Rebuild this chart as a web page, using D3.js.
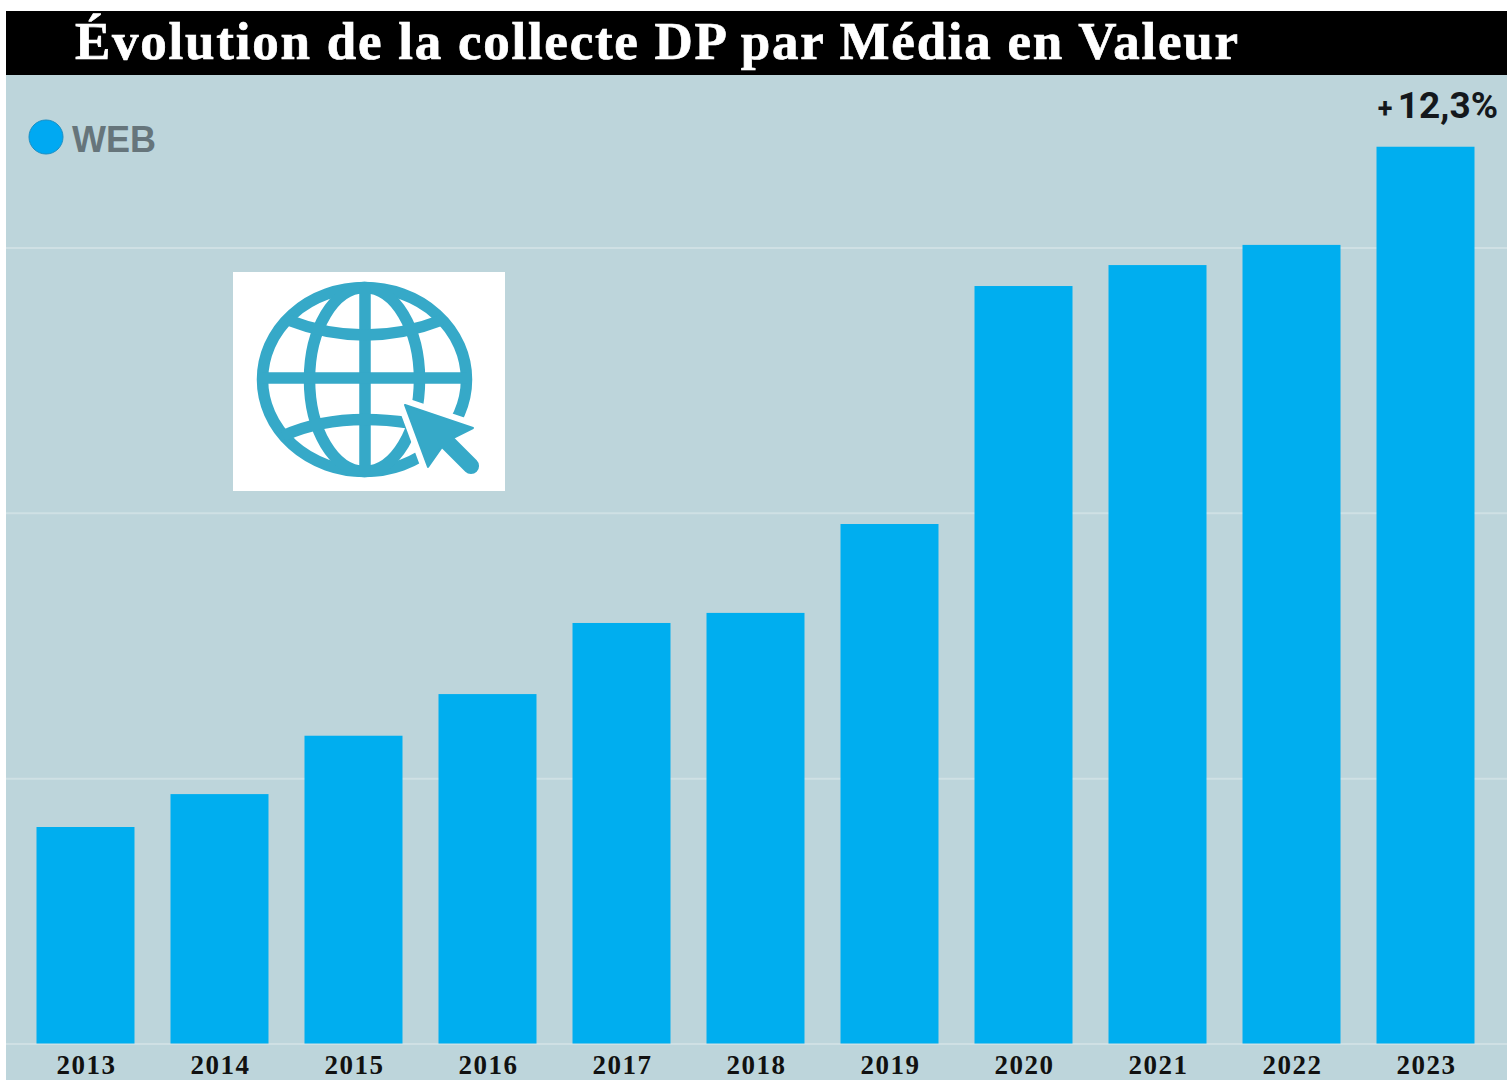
<!DOCTYPE html>
<html lang="fr">
<head>
<meta charset="utf-8">
<title>Évolution de la collecte DP par Média en Valeur</title>
<script src="https://cdn.jsdelivr.net/npm/d3@7"></script>
<style>
  html, body { margin: 0; padding: 0; background: #fff; overflow: hidden; }
  svg { display: block; }
</style>
</head>
<body>
<div id="graphArea"></div>
<script>
const years = ["2013","2014","2015","2016","2017","2018","2019","2020","2021","2022","2023"];
// one grid interval = 100
const webValues = [81.6, 94, 116, 131.7, 158.5, 162.3, 195.8, 285.5, 293.4, 301, 338];
const gridTicks = [0, 100, 200, 300];
const seriesName = "WEB";
const growthSign = "+";
const growthLabel = "12,3%";
const titleText = "Évolution de la collecte DP par Média en Valeur";

const width = 1507;
const height = 1080;
const svg = d3.select("#graphArea").append("svg")
  .attr("width", width)
  .attr("height", height);

// background and title band
svg.append("rect").attr("x", 6).attr("y", 75).attr("width", width - 6).attr("height", height - 75).attr("fill", "#bdd5db");
svg.append("rect").attr("x", 6).attr("y", 11).attr("width", width - 6).attr("height", 64).attr("fill", "#000");
svg.append("text")
  .attr("x", 75).attr("y", 58.5)
  .attr("font-family", "Liberation Serif")
  .attr("font-weight", "bold")
  .attr("font-size", 53)
  .attr("letter-spacing", 1.75)
  .attr("fill", "#fff")
  .attr("stroke", "#fff")
  .attr("stroke-width", 0.7)
  .text(titleText);

var x = d3.scaleBand()
  .domain(years)
  .range([36.5, 1474.5])
  .paddingInner(0.2687)
  .paddingOuter(0);

var y = d3.scaleLinear()
  .domain([0, 350])
  .range([1043.5, 114.9]);

// gridlines
svg.append("g")
  .attr("transform", "translate(6,0)")
  .call(d3.axisLeft(y).tickValues(gridTicks).tickSize(-(width - 6)).tickFormat(""))
  .call(g => g.select(".domain").remove())
  .selectAll("line")
    .attr("stroke", "#cfe0e4")
    .attr("stroke-width", 2);

// bars
svg.selectAll(".bar")
  .data(webValues)
  .enter().append("rect")
    .attr("class", "bar")
    .attr("x", (d, i) => x(years[i]))
    .attr("y", d => y(d))
    .attr("width", x.bandwidth())
    .attr("height", d => y(0) - y(d))
    .attr("fill", "#00aeef");

// year labels
svg.append("g")
  .attr("transform", "translate(1,1043)")
  .call(d3.axisBottom(x).tickSize(0).tickPadding(11.5))
  .call(g => g.select(".domain").remove())
  .selectAll("text")
    .attr("font-family", "Liberation Serif")
    .attr("font-weight", "bold")
    .attr("font-size", 27)
    .attr("letter-spacing", 1.5)
    .attr("fill", "#111");

// growth label over the last bar
svg.append("text")
  .attr("x", 1385).attr("y", 118)
  .attr("text-anchor", "middle")
  .attr("font-family", "Roboto")
  .attr("font-weight", "bold")
  .attr("font-size", 27)
  .attr("fill", "#14181c")
  .text(growthSign);
svg.append("text")
  .attr("x", 1498).attr("y", 118)
  .attr("text-anchor", "end")
  .attr("font-family", "Roboto")
  .attr("font-weight", "bold")
  .attr("font-size", 37)
  .attr("fill", "#14181c")
  .text(growthLabel);

// legend
svg.append("circle").attr("cx", 46).attr("cy", 137).attr("r", 17)
  .attr("fill", "#00a9f2").attr("stroke", "#1b8fc4").attr("stroke-width", 1);
svg.append("text")
  .attr("x", 72).attr("y", 152)
  .attr("font-family", "Liberation Sans")
  .attr("font-weight", "bold")
  .attr("font-size", 36)
  .attr("fill", "#66757b")
  .text(seriesName);

// web icon
const iconColor = "#36a9c8";
const icon = svg.append("g");
icon.append("rect").attr("x", 233).attr("y", 272).attr("width", 272).attr("height", 219).attr("fill", "#fff");
const globe = icon.append("g").attr("fill", "none").attr("stroke", iconColor).attr("stroke-width", 11.5);
globe.append("ellipse").attr("cx", 364.5).attr("cy", 379.5).attr("rx", 102).attr("ry", 92);
globe.append("ellipse").attr("cx", 364.5).attr("cy", 379.5).attr("rx", 55).attr("ry", 92);
globe.append("path").attr("d", "M365,287V472");
globe.append("path").attr("d", "M262,378H467");
globe.append("path").attr("d", "M288,320Q365,350 442,320");
globe.append("path").attr("d", "M283,436Q335,412 410,423");
// cursor with its white halo
const cursorShape = "M405,405L473,428L453,438L476,461A7,7 0 0 1 466,471L442,447L428,467Z";
icon.append("path").attr("d", cursorShape).attr("fill", "#fff").attr("stroke", "#fff").attr("stroke-width", 14).attr("stroke-linejoin", "round");
icon.append("path").attr("d", cursorShape).attr("fill", iconColor).attr("stroke", iconColor).attr("stroke-width", 2).attr("stroke-linejoin", "round");
</script>
</body>
</html>
